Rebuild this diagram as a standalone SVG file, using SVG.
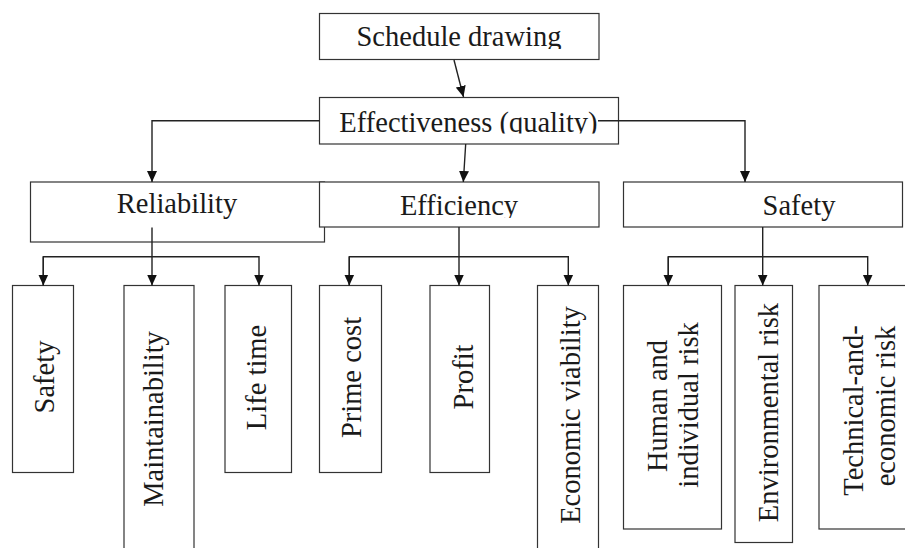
<svg xmlns="http://www.w3.org/2000/svg" width="905" height="548" viewBox="0 0 905 548">
<style>
.box{fill:#fff;stroke:#333;stroke-width:1.2}
.t{font-family:"Liberation Serif","Times New Roman",serif;font-size:28.5px;fill:#1a1a1a;text-anchor:middle}
.c{fill:none;stroke:#222;stroke-width:1.4}
</style>
<defs>
<marker id="ah" markerUnits="userSpaceOnUse" markerWidth="11" markerHeight="11" viewBox="0 0 11 10" refX="11" refY="5" orient="auto">
<path d="M0,0 L11,5 L0,10 z" fill="#111"/>
</marker>
<clipPath id="clipSched"><rect x="319" y="13" width="280" height="36"/></clipPath>
<clipPath id="clipEff"><rect x="319" y="97" width="299" height="36.5"/></clipPath>
<clipPath id="clipEffic"><rect x="319" y="182" width="280" height="36"/></clipPath>
</defs>
<rect width="905" height="548" fill="#fff"/>

<g id="schedule">
<rect class="box" x="319.5" y="13.5" width="279.5" height="46"/>
<text class="t" x="459" y="46" clip-path="url(#clipSched)">Schedule drawing</text>
</g>

<g id="effectiveness">
<rect class="box" x="319.5" y="97.5" width="299" height="46.5"/>
<text class="t" x="468.5" y="131.5" clip-path="url(#clipEff)">Effectiveness (quality)</text>
</g>

<g id="reliability">
<rect class="box" x="30.5" y="182" width="294" height="60"/>
<text class="t" x="177" y="213">Reliability</text>
</g>

<g id="efficiency">
<rect class="box" x="319.5" y="182" width="279.5" height="45"/>
<text class="t" x="459" y="215" clip-path="url(#clipEffic)">Efficiency</text>
</g>

<g id="safety-main">
<rect class="box" x="623.5" y="182" width="279" height="45"/>
<text class="t" x="799" y="215">Safety</text>
</g>

<g id="safety">
<rect class="box" x="12.5" y="285.5" width="61" height="187"/>
<text class="t" transform="translate(54,377) rotate(-90)">Safety</text>
</g>
<g id="maintainability">
<rect class="box" x="124" y="285.5" width="70" height="280"/>
<text class="t" transform="translate(163,419) rotate(-90)">Maintainability</text>
</g>
<g id="lifetime">
<rect class="box" x="225" y="285.5" width="66.5" height="187"/>
<text class="t" transform="translate(266,377.5) rotate(-90)">Life time</text>
</g>
<g id="primecost">
<rect class="box" x="319.5" y="285.5" width="62" height="187"/>
<text class="t" transform="translate(361,377.5) rotate(-90)">Prime cost</text>
</g>
<g id="profit">
<rect class="box" x="430" y="285.5" width="59.5" height="187"/>
<text class="t" transform="translate(473,377) rotate(-90)">Profit</text>
</g>
<g id="economic">
<rect class="box" x="537.5" y="285.5" width="61" height="280"/>
<text class="t" transform="translate(580,415) rotate(-90)">Economic viability</text>
</g>
<g id="human">
<rect class="box" x="623.5" y="285.5" width="98" height="243.5"/>
<text class="t" transform="translate(666.5,406) rotate(-90)">Human and</text>
<text class="t" transform="translate(698,405) rotate(-90)">individual risk</text>
</g>
<g id="environmental">
<rect class="box" x="735" y="285.5" width="57.5" height="257"/>
<text class="t" transform="translate(778,412.5) rotate(-90)">Environmental risk</text>
</g>
<g id="technical">
<rect class="box" x="819" y="285.5" width="100" height="243.5"/>
<text class="t" transform="translate(863,410.5) rotate(-90)">Technical-and-</text>
<text class="t" transform="translate(895,406) rotate(-90)">economic risk</text>
</g>

<g id="connectors">
<path class="c" d="M454,60 L463.5,97" marker-end="url(#ah)"/>
<path class="c" d="M319.5,120.7 H152 V182" marker-end="url(#ah)"/>
<path class="c" d="M465.7,144 L463.3,182" marker-end="url(#ah)"/>
<path class="c" d="M598,120.7 H745 V182" marker-end="url(#ah)"/>

<path class="c" d="M152,227.5 V285.5" marker-end="url(#ah)"/>
<path class="c" d="M43.3,285.5 V256.7 H259 V285.5" marker-end="url(#ah)"/>
<path class="c" d="M43.3,256.7 V285.5" marker-end="url(#ah)"/>

<path class="c" d="M459,227 V285.5" marker-end="url(#ah)"/>
<path class="c" d="M349.3,285.5 V256.7 H568.3 V285.5" marker-end="url(#ah)"/>
<path class="c" d="M349.3,256.7 V285.5" marker-end="url(#ah)"/>

<path class="c" d="M762.7,227 V285.5" marker-end="url(#ah)"/>
<path class="c" d="M668.3,285.5 V256.7 H867.7 V285.5" marker-end="url(#ah)"/>
<path class="c" d="M668.3,256.7 V285.5" marker-end="url(#ah)"/>
</g>
</svg>
